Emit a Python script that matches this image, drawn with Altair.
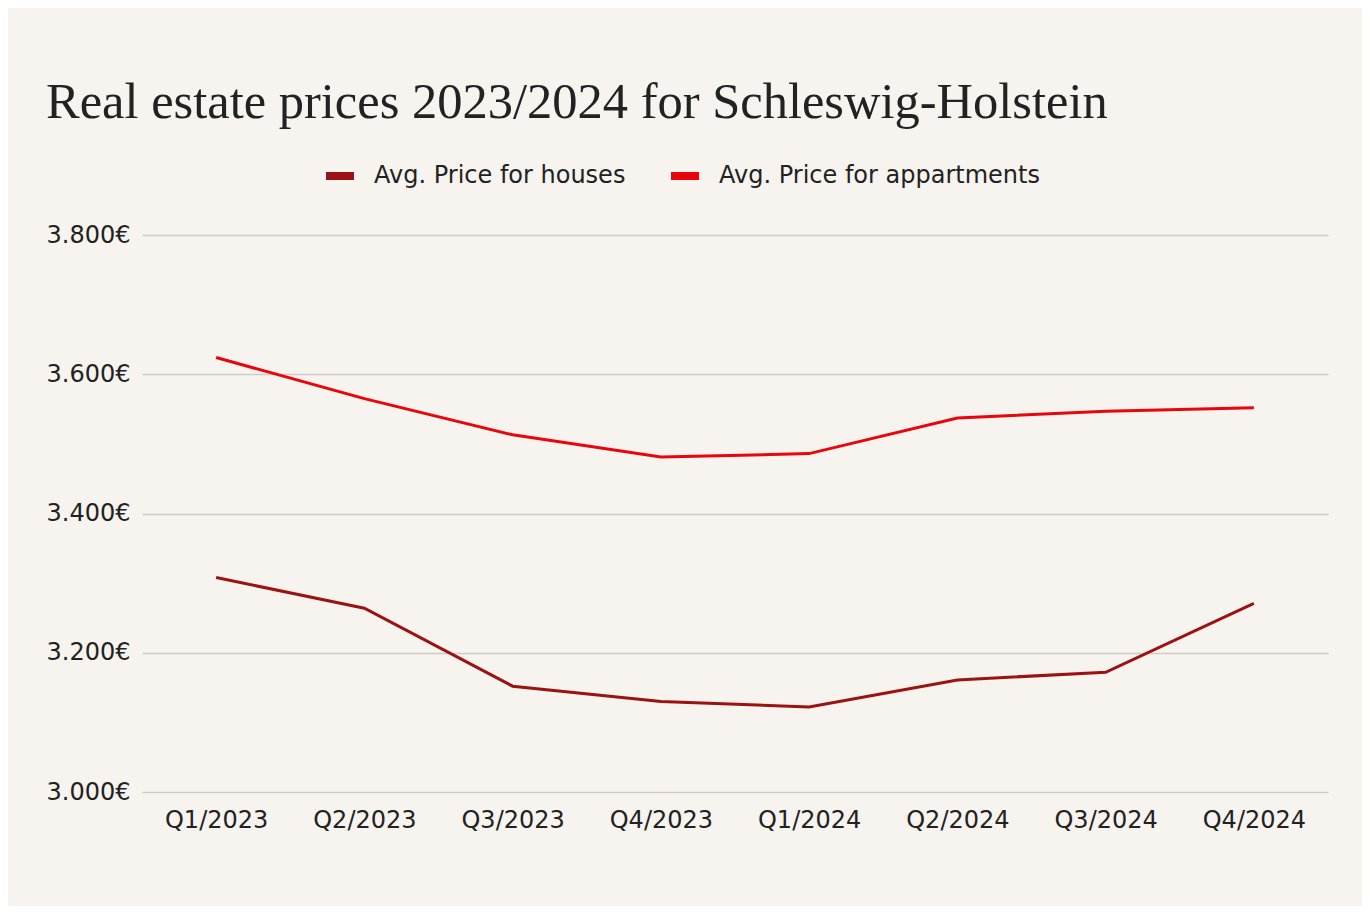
import altair as alt
import pandas as pd

quarters = ["Q1/2023", "Q2/2023", "Q3/2023", "Q4/2023",
            "Q1/2024", "Q2/2024", "Q3/2024", "Q4/2024"]
houses = [3308, 3264, 3152, 3130, 3122, 3161, 3172, 3271]
apartments = [3624, 3565, 3513, 3481, 3486, 3537, 3547, 3552]

series_names = ["Avg. Price for houses", "Avg. Price for appartments"]
series_colors = ["#9b1212", "#e8060c"]

df = pd.DataFrame({
    "quarter": quarters * 2,
    "price": houses + apartments,
    "series": [series_names[0]] * len(quarters) + [series_names[1]] * len(quarters),
})

text_font = "DejaVu Sans"
text_color = "#222222"

chart = alt.Chart(df).mark_line(strokeWidth=3).encode(
    x=alt.X("quarter:N", sort=quarters, title=None,
            scale=alt.Scale(paddingInner=0, paddingOuter=0.5),
            axis=alt.Axis(labelAngle=0, ticks=False, domain=False, grid=False,
                          labelPadding=16, labelFontSize=24, labelFont=text_font,
                          labelColor=text_color)),
    y=alt.Y("price:Q", title=None,
            scale=alt.Scale(domain=[3000, 3800], nice=False, zero=False),
            axis=alt.Axis(values=[3000, 3200, 3400, 3600, 3800], ticks=False,
                          domain=False, labelPadding=12, labelFontSize=24,
                          labelFont=text_font, labelColor=text_color,
                          gridColor="#cfcbc5", gridWidth=1.5,
                          labelExpr="replace(format(datum.value, ',d'), ',', '.') + '€'")),
    color=alt.Color("series:N", sort=series_names,
                    scale=alt.Scale(domain=series_names, range=series_colors),
                    legend=alt.Legend(title=None, orient="none", direction="horizontal",
                                      legendX=180, legendY=-77,
                                      symbolType="stroke", symbolSize=784,
                                      symbolStrokeWidth=8, labelOffset=16,
                                      columnPadding=29, labelFontSize=24,
                                      labelLimit=0,
                                      labelFont=text_font, labelColor=text_color,
                                      padding=0)),
).properties(
    width=1186,
    height=557,
    title=alt.TitleParams("Real estate prices 2023/2024 for Schleswig-Holstein",
                          anchor="start", font="Liberation Serif", fontSize=50.5,
                          fontWeight="normal", color=text_color, offset=30),
    padding={"left": 134, "top": 227, "right": 34, "bottom": 114},
    autosize=alt.AutoSizeParams(type="none"),
).configure(
    background="#f7f4f0",
).configure_view(
    stroke=None,
)

chart.save("out.html", embed_options={"renderer": "svg", "actions": False})
